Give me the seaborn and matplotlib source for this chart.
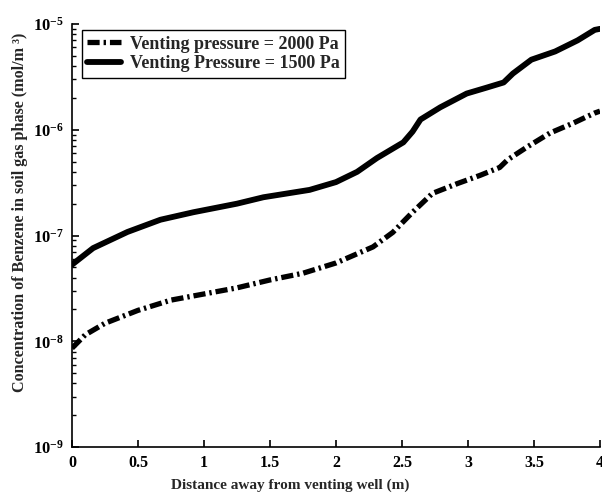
import numpy as np
import pandas as pd
import matplotlib
matplotlib.use("Agg")
import matplotlib.pyplot as plt
import seaborn as sns
from matplotlib.ticker import LogLocator, NullFormatter

# Benzene concentration in the soil gas phase vs. distance from the venting well
dist_2000 = [0.0, 0.1, 0.25, 0.5, 0.75, 1.0, 1.25, 1.5, 1.75, 2.0, 2.28, 2.43,
             2.58, 2.73, 2.92, 3.09, 3.24, 3.30, 3.45, 3.62, 3.80, 3.96, 4.0]
conc_2000 = [8.6e-9, 1.15e-8, 1.48e-8, 1.96e-8, 2.45e-8, 2.8e-8, 3.2e-8, 3.8e-8,
             4.4e-8, 5.5e-8, 7.8e-8, 1.07e-7, 1.66e-7, 2.5e-7, 3.1e-7, 3.7e-7,
             4.4e-7, 5.2e-7, 6.9e-7, 9.3e-7, 1.16e-6, 1.44e-6, 1.5e-6]

dist_1500 = [0.0, 0.16, 0.42, 0.67, 0.92, 1.25, 1.45, 1.80, 2.0, 2.16, 2.31, 2.51,
             2.58, 2.64, 2.79, 2.99, 3.14, 3.27, 3.34, 3.48, 3.66, 3.83, 3.96, 4.0]
conc_1500 = [5.3e-8, 7.6e-8, 1.08e-7, 1.41e-7, 1.66e-7, 2.0e-7, 2.3e-7, 2.7e-7,
             3.2e-7, 4.0e-7, 5.4e-7, 7.6e-7, 9.6e-7, 1.25e-6, 1.63e-6, 2.2e-6,
             2.5e-6, 2.8e-6, 3.4e-6, 4.6e-6, 5.5e-6, 7.0e-6, 8.8e-6, 9.0e-6]

label_2000 = "Venting pressure = 2000 Pa"
label_1500 = "Venting Pressure = 1500 Pa"
x_ticks = [0, 0.5, 1, 1.5, 2, 2.5, 3, 3.5, 4]
x_tick_labels = ["0", "0.5", "1", "1.5", "2", "2.5", "3", "3.5", "4"]

sns.set_theme(style="ticks", rc={"xtick.direction": "in", "ytick.direction": "in"})
plt.rcParams["font.family"] = ["Liberation Serif", "DejaVu Serif"]
plt.rcParams["font.weight"] = "bold"
plt.rcParams["mathtext.fontset"] = "custom"
plt.rcParams["mathtext.rm"] = "Liberation Serif:bold"
plt.rcParams["mathtext.bf"] = "Liberation Serif:bold"
plt.rcParams["mathtext.default"] = "bf"

fig = plt.figure(figsize=(6.02, 4.98), dpi=100)
ax = fig.add_axes([0.1196, 0.1024, 0.8771, 0.8494])

df_2000 = pd.DataFrame({"x": dist_2000, "y": conc_2000})
df_1500 = pd.DataFrame({"x": dist_1500, "y": conc_1500})

sns.lineplot(data=df_2000, x="x", y="y", ax=ax, color="black", lw=3.8,
             linestyle=(0, (2.3, 0.75, 0.45, 0.75)), label=label_2000)
sns.lineplot(data=df_1500, x="x", y="y", ax=ax, color="black", lw=4.2,
             label=label_1500)
for ln in ax.get_lines():
    ln.set_dash_capstyle("butt")
    ln.set_solid_capstyle("round")
    ln.set_solid_joinstyle("round")

ax.set_yscale("log")
ax.set_xlim(0, 4)
ax.set_ylim(1e-9, 1e-5)
ax.set_xticks(x_ticks)
ax.set_xticklabels(x_tick_labels)
ax.yaxis.set_major_locator(LogLocator(base=10, numticks=10))
ax.yaxis.set_minor_locator(LogLocator(base=10, subs=np.arange(2, 10), numticks=20))
ax.yaxis.set_minor_formatter(NullFormatter())

sns.despine(ax=ax)
for s in ("left", "bottom"):
    ax.spines[s].set_linewidth(1.2)
    ax.spines[s].set_color("black")
ax.tick_params(axis="x", which="major", direction="in", length=5, width=1.2,
               colors="black", labelsize=11.5, pad=6)
ax.tick_params(axis="y", which="major", direction="in", length=5, width=1.2,
               colors="black", labelsize=12, pad=6)
ax.tick_params(axis="y", which="minor", direction="in", length=3, width=1.0,
               colors="black")
ax.tick_params(axis="x", which="minor", length=0)
for t in ax.get_xticklabels() + ax.get_yticklabels():
    t.set_fontweight("bold")

ax.set_xlabel("Distance away from venting well (m)", fontsize=11, fontweight="bold")
ax.set_ylabel("Concentration of Benzene in soil gas phase (mol/m \u00b3)", fontsize=11.6,
              fontweight="bold")
ax.xaxis.set_label_coords(0.413, -0.09, transform=ax.transAxes)
ax.yaxis.set_label_coords(-0.098, 0.556, transform=ax.transAxes)
ax.xaxis.label.set_va("center")
ax.yaxis.label.set_va("center")

leg = ax.legend(loc="upper left", bbox_to_anchor=(0.018, 0.985), frameon=True,
                fancybox=False, edgecolor="black", framealpha=1, fontsize=13,
                handlelength=1.9, handletextpad=0.5, borderpad=0.3,
                labelspacing=0.15, borderaxespad=0)
leg.get_frame().set_linewidth(1.0)
for t in leg.get_texts():
    t.set_fontweight("bold")

ax.grid(False)
fig.savefig("out.png", dpi=100)
